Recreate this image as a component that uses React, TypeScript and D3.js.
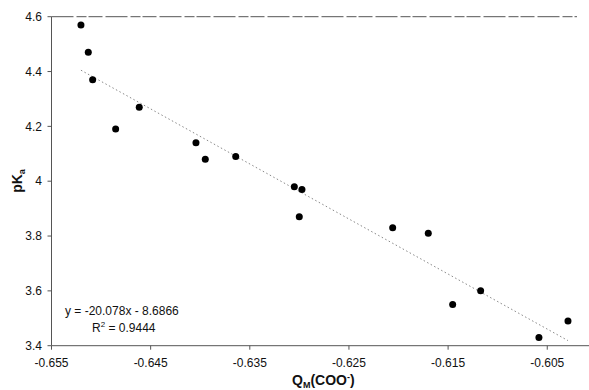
import React from "react";
import * as d3 from "d3";

const qm = [-0.65203, -0.65129, -0.65085, -0.64853, -0.64615, -0.64043, -0.63949, -0.63642, -0.63051, -0.62974, -0.63001, -0.62059, -0.617, -0.61454, -0.61172, -0.60584, -0.60291];
const pka = [4.57, 4.47, 4.37, 4.19, 4.27, 4.14, 4.08, 4.09, 3.98, 3.97, 3.87, 3.83, 3.81, 3.55, 3.6, 3.43, 3.49];
const xTicks = [-0.655, -0.645, -0.635, -0.625, -0.615, -0.605];
const yTicks = [3.4, 3.6, 3.8, 4.0, 4.2, 4.4, 4.6];
const slope = -20.078;
const intercept = -8.6866;
const r2 = "0.9444";

const W = 589;
const H = 390;
const FONT = "'Liberation Sans', Arial, sans-serif";

export default function App() {
  const x = d3.scaleLinear().domain([-0.655, -0.602]).range([51.5, 577]);
  const y = d3.scaleLinear().domain([3.4, 4.6]).range([345.7, 16.7]);
  const [xmin, xmax] = d3.extent(qm) as [number, number];
  const trend = d3.line<number>().x((d) => x(d)).y((d) => y(slope * d + intercept));
  const yFmt = (v: number) => d3.format("")(+v.toFixed(1));

  return (
    <svg width={W} height={H} style={{ position: "absolute", left: 0, top: 0, background: "#fff" }} fontFamily={FONT}>
      {/* top border line */}
      <line x1={x(-0.655)} x2={577} y1={y(4.6)} y2={y(4.6)} stroke="#555" strokeWidth={1} strokeDasharray="22,3,10,2,14,3" />
      {/* y axis */}
      <line x1={x(-0.655)} x2={x(-0.655)} y1={y(4.6)} y2={y(3.4)} stroke="#555" strokeWidth={1} />
      {/* x axis */}
      <line x1={x(-0.655)} x2={W} y1={y(3.4)} y2={y(3.4)} stroke="#555" strokeWidth={1} />
      {yTicks.map((t) => (
        <g key={"y" + t}>
          <line x1={x(-0.655) - 4} x2={x(-0.655)} y1={y(t)} y2={y(t)} stroke="#555" />
          <text x={42} y={y(t)} dy="0.35em" textAnchor="end" fontSize={12} fill="#111">
            {yFmt(t)}
          </text>
        </g>
      ))}
      {xTicks.map((t) => (
        <g key={"x" + t}>
          <line x1={x(t)} x2={x(t)} y1={y(3.4)} y2={y(3.4) + 4} stroke="#555" />
          <text x={x(t)} y={367} textAnchor="middle" fontSize={12} fill="#111">
            {t.toFixed(3)}
          </text>
        </g>
      ))}
      {/* trend line */}
      <path d={trend([xmin, xmax]) || ""} fill="none" stroke="#888" strokeWidth={1} strokeDasharray="1.5,2.5" />
      {/* points */}
      {qm.map((q, i) => (
        <circle key={i} cx={x(q)} cy={y(pka[i])} r={3.5} fill="#000" />
      ))}
      {/* equation */}
      <text x={65} y={315} fontSize={12} fill="#111">
        {`y = ${slope}x - ${Math.abs(intercept)}`}
      </text>
      <text x={92} y={332} fontSize={12} fill="#111">
        R<tspan fontSize={8} dy={-5}>2</tspan>
        <tspan dy={5}>{` = ${r2}`}</tspan>
      </text>
      {/* axis titles */}
      <text x={292} y={385} fontSize={14} fontWeight="bold" fill="#111">
        Q<tspan fontSize={9} dy={3}>M</tspan>
        <tspan dy={-3}>(COO</tspan>
        <tspan fontSize={9} dy={-5}>-</tspan>
        <tspan dy={5}>)</tspan>
      </text>
      <text transform="translate(22,181) rotate(-90)" textAnchor="middle" fontSize={14} fontWeight="bold" fill="#111">
        pK<tspan fontSize={9} dy={3}>a</tspan>
      </text>
    </svg>
  );
}
